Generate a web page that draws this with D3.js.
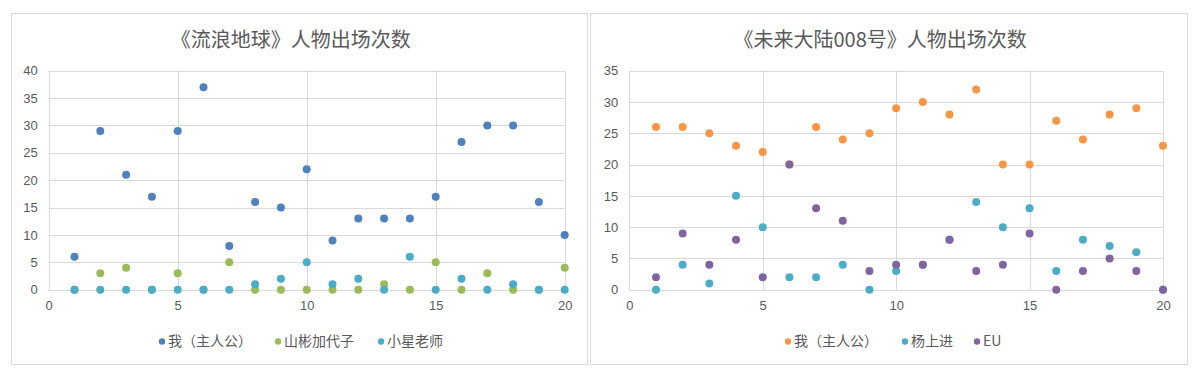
<!DOCTYPE html>
<html>
<head>
<meta charset="utf-8">
<script src="https://cdn.jsdelivr.net/npm/d3@7"></script>
<style>
  body { margin: 0; background: #fff; }
  svg { display: block; font-family: "Noto Sans CJK SC", "Noto Sans", sans-serif; }
  .tick text { fill: #595959; font-size: 13px; }
</style>
</head>
<body>
<svg id="chart" width="1200" height="376"></svg>
<script>
// episodes 1..20
const episodes = d3.range(1, 21);

// 《流浪地球》
const earthNames = ["我（主人公）", "山彬加代子", "小星老师"];
const earthMe     = [6, 29, 21, 17, 29, 37, 8, 16, 15, 22, 9, 13, 13, 13, 17, 27, 30, 30, 16, 10];
const earthYamabi = [0, 3, 4, 0, 3, 0, 5, 0, 0, 0, 0, 0, 1, 0, 5, 0, 3, 0, 0, 4];
const earthXiaoxing = [0, 0, 0, 0, 0, 0, 0, 1, 2, 5, 1, 2, 0, 6, 0, 2, 0, 1, 0, 0];
const earthYTicks = [0, 5, 10, 15, 20, 25, 30, 35, 40];

// 《未来大陆008号》
const futureNames = ["我（主人公）", "杨上进", "EU"];
const futureMe   = [26, 26, 25, 23, 22, 20, 26, 24, 25, 29, 30, 28, 32, 20, 20, 27, 24, 28, 29, 23];
const futureYang = [0, 4, 1, 15, 10, 2, 2, 4, 0, 3, 4, 8, 14, 10, 13, 3, 8, 7, 6, 0];
const futureEU   = [2, 9, 4, 8, 2, 20, 13, 11, 3, 4, 4, 8, 3, 4, 9, 0, 3, 5, 3, 0];
const futureYTicks = [0, 5, 10, 15, 20, 25, 30, 35];

const xTicks = [0, 5, 10, 15, 20];

const svg = d3.select("#chart");

drawPanel({
    left: 11, right: 588,
    title: "《流浪地球》人物出场次数",
    names: earthNames,
    series: [earthMe, earthYamabi, earthXiaoxing],
    colors: ["#4F81BD", "#9BBB59", "#4BACC6"],
    yTicks: earthYTicks,
    plot: {x0: 48.7, x1: 564.7},
    legendX: [162, 278, 381]
});

drawPanel({
    left: 590, right: 1188,
    title: "《未来大陆008号》人物出场次数",
    names: futureNames,
    series: [futureMe, futureYang, futureEU],
    colors: ["#F79646", "#4BACC6", "#8064A2"],
    yTicks: futureYTicks,
    plot: {x0: 629.3, x1: 1163},
    legendX: [788, 905, 977]
});

function drawPanel(cfg) {
    const top = 13, bottom = 364;
    const g = svg.append("g");

    g.append("rect")
        .attr("x", cfg.left + 0.5)
        .attr("y", top + 0.5)
        .attr("width", cfg.right - cfg.left - 1)
        .attr("height", bottom - top)
        .attr("fill", "#fff")
        .attr("stroke", "#d9d9d9");

    g.append("text")
        .attr("x", (cfg.plot.x0 + cfg.plot.x1) / 2 - 16)
        .attr("y", 47)
        .attr("text-anchor", "middle")
        .attr("fill", "#595959")
        .attr("font-size", 20)
        .text(cfg.title);

    const x = d3.scaleLinear().domain([0, 20]).range([cfg.plot.x0, cfg.plot.x1]);
    const y = d3.scaleLinear().domain([0, d3.max(cfg.yTicks)]).range([289.7, 70.7]);

    // grid
    g.append("g")
        .selectAll("line")
        .data(cfg.yTicks)
        .join("line")
        .attr("x1", x(0)).attr("x2", x(20))
        .attr("y1", d => Math.round(y(d)) + 0.5)
        .attr("y2", d => Math.round(y(d)) + 0.5)
        .attr("stroke", "#d9d9d9");

    g.append("g")
        .selectAll("line")
        .data(xTicks)
        .join("line")
        .attr("y1", y.range()[1]).attr("y2", y(0))
        .attr("x1", d => Math.round(x(d)) + 0.5)
        .attr("x2", d => Math.round(x(d)) + 0.5)
        .attr("stroke", "#d9d9d9");

    // axes
    g.append("g")
        .attr("transform", `translate(0,${y(0)})`)
        .call(d3.axisBottom(x).tickValues(xTicks).tickSize(0).tickPadding(11))
        .call(a => a.select(".domain").remove());

    g.append("g")
        .attr("transform", `translate(${x(0)},0)`)
        .call(d3.axisLeft(y).tickValues(cfg.yTicks).tickSize(0).tickPadding(11))
        .call(a => a.select(".domain").remove());

    // points
    cfg.series.forEach((vals, i) => {
        g.append("g")
            .selectAll("circle")
            .data(vals)
            .join("circle")
            .attr("cx", (d, j) => x(episodes[j]))
            .attr("cy", d => y(d))
            .attr("r", 4)
            .attr("fill", cfg.colors[i]);
    });

    // legend
    const leg = g.append("g")
        .selectAll("g")
        .data(cfg.names)
        .join("g")
        .attr("transform", (d, i) => `translate(${cfg.legendX[i]},341.5)`);
    leg.append("circle")
        .attr("r", 3.2)
        .attr("fill", (d, i) => cfg.colors[i]);
    leg.append("text")
        .attr("x", 6)
        .attr("dy", "0.35em")
        .attr("fill", "#595959")
        .attr("font-size", 14)
        .text(d => d);
}
</script>
</body>
</html>
